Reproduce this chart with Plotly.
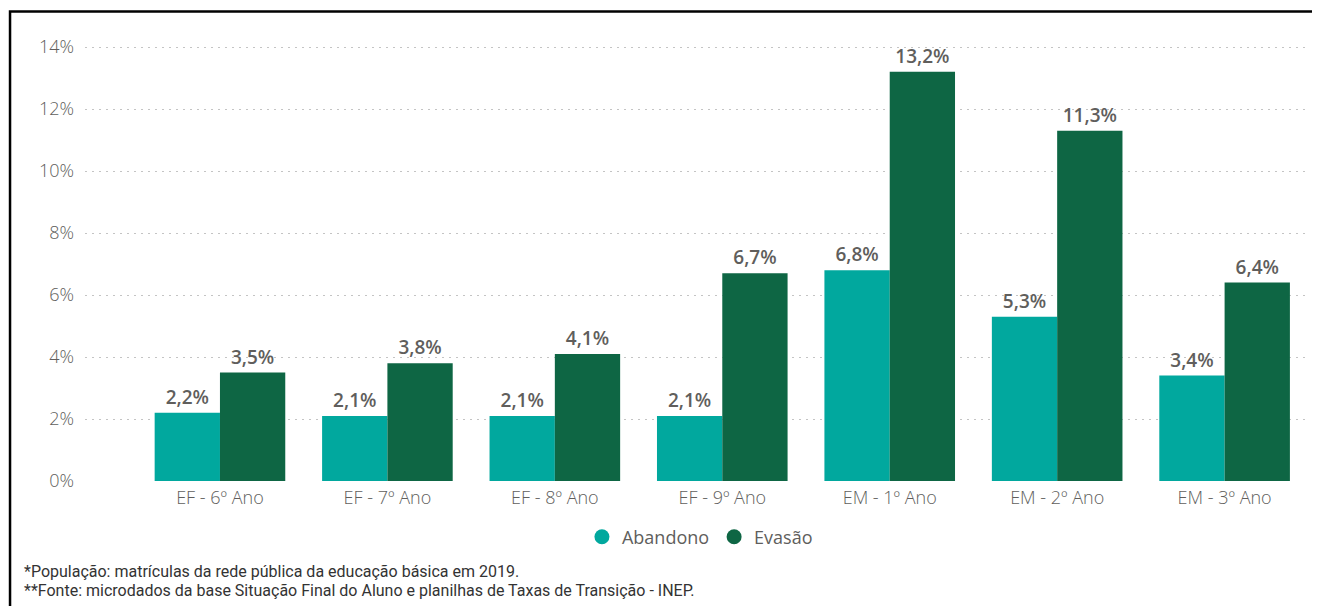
import plotly.graph_objects as go

categories = ["EF - 6º Ano", "EF - 7º Ano", "EF - 8º Ano", "EF - 9º Ano",
              "EM - 1º Ano", "EM - 2º Ano", "EM - 3º Ano"]
abandono = [2.2, 2.1, 2.1, 2.1, 6.8, 5.3, 3.4]
evasao = [3.5, 3.8, 4.1, 6.7, 13.2, 11.3, 6.4]
series_names = ["Abandono", "Evasão"]
series_colors = ["#01A89E", "#0E6644"]
y_ticks = [0, 2, 4, 6, 8, 10, 12, 14]
y_ticklabels = [f"{t}%" for t in y_ticks]
footnotes = ["*População: matrículas da rede pública da educação básica em 2019.",
             "**Fonte: microdados da base Situação Final do Aluno e planilhas de Taxas de Transição - INEP."]

def fmt(v):
    return f"{v:.1f}%".replace(".", ",")

GRAY = "#605E5C"
TXT = "Open Sans"

fig = go.Figure()
for name, vals, col in zip(series_names, [abandono, evasao], series_colors):
    fig.add_trace(go.Bar(
        name=name, x=categories, y=vals,
        marker=dict(color=col, line=dict(width=0)),
        text=[fmt(v) for v in vals], textposition="outside",
        textfont=dict(family=TXT, size=19, color=GRAY, weight=600),
        cliponaxis=False, showlegend=False, legendgroup=name,
    ))
# legend entries with circle markers
for name, col in zip(series_names, series_colors):
    fig.add_trace(go.Scatter(
        name=name, x=[None], y=[None], mode="markers",
        marker=dict(symbol="circle", size=15, color=col),
        showlegend=True, legendgroup=name, hoverinfo="skip",
    ))

annotations = []
for txt, yp in zip(footnotes, [-0.2041, -0.2472]):
    annotations.append(dict(
        text=txt, xref="paper", yref="paper", x=-0.0514, y=yp,
        xanchor="left", yanchor="middle", showarrow=False,
        font=dict(family="Roboto", size=16, color="#333333")))

fig.update_layout(
    width=1312, height=598,
    margin=dict(l=77, r=10, t=32, b=125),
    paper_bgcolor="white", plot_bgcolor="white",
    barmode="group", bargap=0.22, bargroupgap=0,
    font=dict(family=TXT, size=18, color=GRAY),
    showlegend=True,
    legend=dict(orientation="h", x=0.502, xanchor="center", y=-0.127, yanchor="middle",
                font=dict(family=TXT, size=18, color=GRAY),
                itemwidth=30, traceorder="normal", tracegroupgap=0,
                bgcolor="rgba(0,0,0,0)"),
    xaxis=dict(range=[-0.806, 6.51], showgrid=False, showline=False, ticks="",
               ticklabelstandoff=4,
               tickfont=dict(family=TXT, size=18, color=GRAY, weight=300)),
    yaxis=dict(range=[0, 14.226], tickvals=y_ticks, ticktext=y_ticklabels,
               showgrid=True, gridcolor="#C4C4C4", griddash="2px,5px", gridwidth=1,
               zeroline=False, showline=False, ticks="", ticklabelstandoff=10,
               tickfont=dict(family=TXT, size=18, color=GRAY, weight=300)),
    shapes=[dict(type="rect", xref="paper", yref="paper",
                 x0=-0.0612, x1=1.1, y0=-0.5, y1=1.0646,
                 line=dict(color="black", width=2.5), fillcolor="rgba(0,0,0,0)", layer="above")],
    annotations=annotations,
)

fig.write_html("out.html")
